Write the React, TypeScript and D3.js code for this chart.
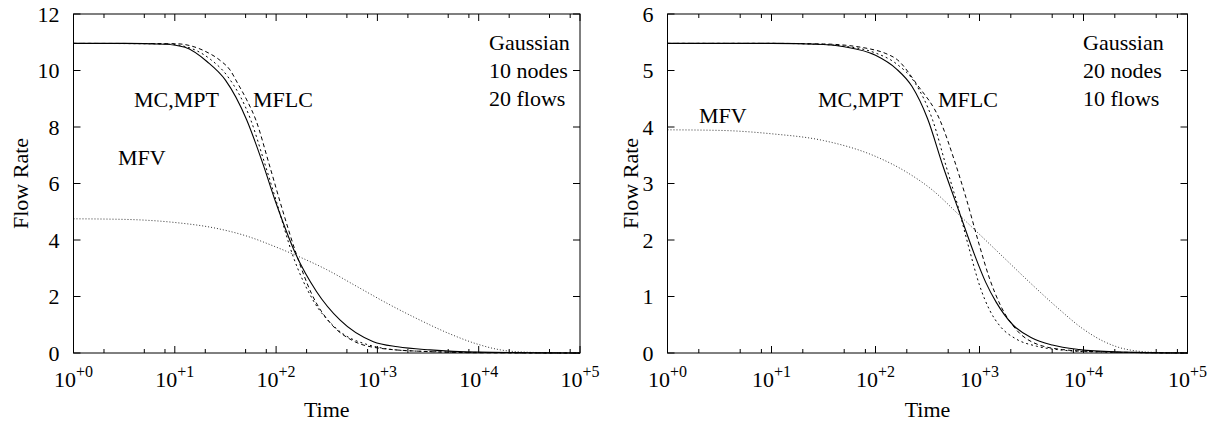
import React from "react";
import * as d3 from "d3";

// ---------- data (x given as log10(Time)) ----------
const xTickExponents = [0, 1, 2, 3, 4, 5];
const minorMultipliers = [2, 5, 8];

// Left panel: Gaussian, 10 nodes, 20 flows
const leftYTicks = [0, 2, 4, 6, 8, 10, 12];
const mcLeftX = [0, 0.5, 0.9, 1.1, 1.32, 1.5, 1.71, 1.86, 2.0, 2.19, 2.4, 2.63, 2.96, 3.2, 3.52, 4.0, 4.5, 5];
const mcLeftY = [10.96, 10.96, 10.93, 10.82, 10.31, 9.66, 8.25, 6.8, 5.3, 3.53, 2.17, 1.17, 0.4, 0.22, 0.11, 0.03, 0.01, 0];
const mptLeftX = [0, 0.9, 1.1, 1.35, 1.52, 1.75, 1.88, 2.0, 2.17, 2.36, 2.6, 2.9, 3.3, 4.0, 5];
const mptLeftY = [10.96, 10.94, 10.85, 10.4, 9.8, 8.25, 6.8, 5.4, 3.4, 1.9, 0.85, 0.3, 0.08, 0.02, 0];
const mflcLeftX = [0, 1.0, 1.15, 1.3, 1.45, 1.545, 1.62, 1.71, 1.8, 1.93, 2.06, 2.2, 2.35, 2.55, 2.75, 3.0, 3.5, 4.0, 5];
const mflcLeftY = [10.96, 10.95, 10.88, 10.68, 10.35, 10.02, 9.55, 8.96, 8.25, 6.7, 5.1, 3.5, 2.1, 1.0, 0.45, 0.18, 0.05, 0.01, 0];
const mfvLeftX = [0, 0.5, 1.0, 1.4, 1.7, 2.0, 2.2, 2.5, 2.8, 3.1, 3.4, 3.7, 4.0, 4.2, 4.4, 4.7, 5];
const mfvLeftY = [4.75, 4.73, 4.62, 4.42, 4.15, 3.75, 3.45, 2.95, 2.35, 1.75, 1.2, 0.7, 0.3, 0.12, 0.04, 0.01, 0];

// Right panel: Gaussian, 20 nodes, 10 flows
const rightYTicks = [0, 1, 2, 3, 4, 5, 6];
const mcRightX = [0, 1, 1.5, 1.7, 2.0, 2.2, 2.35, 2.5, 2.65, 2.81, 2.95, 3.06, 3.16, 3.32, 3.5, 3.7, 3.96, 4.3, 5];
const mcRightY = [5.48, 5.48, 5.46, 5.42, 5.27, 5.03, 4.72, 4.15, 3.3, 2.47, 1.75, 1.25, 0.9, 0.5, 0.27, 0.14, 0.06, 0.02, 0];
const mptRightX = [0, 1, 1.5, 1.7, 2.0, 2.2, 2.38, 2.55, 2.68, 2.8, 2.9, 3.0, 3.1, 3.2, 3.35, 3.55, 3.8, 4.1, 5];
const mptRightY = [5.48, 5.48, 5.46, 5.43, 5.31, 5.12, 4.78, 4.12, 3.3, 2.55, 1.85, 1.2, 0.75, 0.47, 0.25, 0.12, 0.05, 0.02, 0];
const mflcRightX = [0, 1, 1.5, 2.0, 2.1, 2.21, 2.4, 2.62, 2.76, 2.87, 3.0, 3.1, 3.2, 3.35, 3.5, 3.8, 4.2, 5];
const mflcRightY = [5.48, 5.48, 5.47, 5.36, 5.3, 5.19, 4.75, 4.12, 3.4, 2.75, 1.9, 1.3, 0.85, 0.42, 0.2, 0.06, 0.02, 0];
const mfvRightX = [0, 0.5, 1.0, 1.5, 2.0, 2.3, 2.55, 2.8, 3.0, 3.25, 3.5, 3.75, 4.0, 4.2, 4.4, 4.7, 5];
const mfvRightY = [3.95, 3.94, 3.88, 3.76, 3.48, 3.2, 2.88, 2.45, 2.1, 1.66, 1.22, 0.8, 0.42, 0.2, 0.07, 0.01, 0];

const leftInfo = ["Gaussian", "10 nodes", "20 flows"];
const rightInfo = ["Gaussian", "20 nodes", "10 flows"];

const FONT = "'Liberation Serif', 'Times New Roman', serif";
const FS = 22;

type Series = { xs: number[]; ys: number[]; dash?: string; color: string; width: number };
type Label = { text: string; x: number; y: number };

function Panel(props: {
  left: number; right: number; top: number; bottom: number;
  yMax: number; yTicks: number[]; series: Series[]; labels: Label[];
  info: string[]; infoX: number; ylabelX: number;
}) {
  const { left, right, top, bottom, yMax, yTicks, series, labels, info, infoX, ylabelX } = props;
  const x = d3.scaleLog().domain([1, 1e5]).range([left, right]);
  const y = d3.scaleLinear().domain([0, yMax]).range([bottom, top]);
  const minor: number[] = [];
  xTickExponents.slice(0, -1).forEach((e) => minorMultipliers.forEach((m) => minor.push(m * Math.pow(10, e))));
  return (
    <g>
      {series.map((s, i) => {
        const pts = s.xs.map((e, j) => [Math.pow(10, e), s.ys[j]] as [number, number]);
        const line = d3.line<[number, number]>()
          .x((d) => x(d[0]))
          .y((d) => y(d[1]))
          .curve(d3.curveMonotoneX);
        return (
          <path key={i} d={line(pts) || ""} fill="none" stroke={s.color}
            strokeWidth={s.width} strokeDasharray={s.dash} />
        );
      })}
      <rect x={left} y={top} width={right - left} height={bottom - top} fill="none" stroke="#000" strokeWidth={1} />
      {yTicks.map((t) => (
        <g key={"y" + t}>
          <line x1={left} x2={left + 7} y1={y(t)} y2={y(t)} stroke="#000" />
          <line x1={right} x2={right - 7} y1={y(t)} y2={y(t)} stroke="#000" />
          <text x={left - 14} y={y(t) + 7.5} textAnchor="end" fontFamily={FONT} fontSize={FS}>{t}</text>
        </g>
      ))}
      {xTickExponents.map((e) => {
        const px = x(Math.pow(10, e));
        return (
          <g key={"x" + e}>
            <line x1={px} x2={px} y1={bottom} y2={bottom - 7} stroke="#000" />
            <line x1={px} x2={px} y1={top} y2={top + 7} stroke="#000" />
            <text x={px} y={bottom + 34} textAnchor="middle" fontFamily={FONT} fontSize={FS}>
              <tspan>10</tspan>
              <tspan dy={-10} fontSize={16}>{"+" + e}</tspan>
            </text>
          </g>
        );
      })}
      {minor.map((v, i) => (
        <g key={"m" + i}>
          <line x1={x(v)} x2={x(v)} y1={bottom} y2={bottom - 4} stroke="#000" />
          <line x1={x(v)} x2={x(v)} y1={top} y2={top + 4} stroke="#000" />
        </g>
      ))}
      <text x={(left + right) / 2} y={417} textAnchor="middle" fontFamily={FONT} fontSize={FS}>Time</text>
      <text transform={`translate(${ylabelX},${(top + bottom) / 2}) rotate(-90)`} textAnchor="middle"
        fontFamily={FONT} fontSize={FS}>Flow Rate</text>
      {labels.map((l, i) => (
        <text key={"l" + i} x={l.x} y={l.y} fontFamily={FONT} fontSize={FS}>{l.text}</text>
      ))}
      {info.map((t, i) => (
        <text key={"i" + i} x={infoX} y={50 + i * 28} fontFamily={FONT} fontSize={FS}>{t}</text>
      ))}
    </g>
  );
}

export default function App() {
  const solid = { color: "#000", width: 1.1 };
  const leftSeries: Series[] = [
    { xs: mfvLeftX, ys: mfvLeftY, dash: "1,2", color: "#333", width: 1 },
    { xs: mflcLeftX, ys: mflcLeftY, dash: "4,3", color: "#000", width: 1 },
    { xs: mptLeftX, ys: mptLeftY, dash: "2,3", color: "#000", width: 1 },
    { xs: mcLeftX, ys: mcLeftY, ...solid },
  ];
  const rightSeries: Series[] = [
    { xs: mfvRightX, ys: mfvRightY, dash: "1,2", color: "#333", width: 1 },
    { xs: mflcRightX, ys: mflcRightY, dash: "4,3", color: "#000", width: 1 },
    { xs: mptRightX, ys: mptRightY, dash: "2,3", color: "#000", width: 1 },
    { xs: mcRightX, ys: mcRightY, ...solid },
  ];
  return (
    <svg width={1217} height={424} style={{ position: "absolute", left: 0, top: 0, background: "#fff" }}>
      <rect x={0} y={0} width={1217} height={424} fill="#fff" />
      <Panel left={73.5} right={580} top={14} bottom={353} yMax={12} yTicks={leftYTicks}
        series={leftSeries}
        labels={[{ text: "MC,MPT", x: 134, y: 107 }, { text: "MFLC", x: 253, y: 107 }, { text: "MFV", x: 118, y: 165 }]}
        info={leftInfo} infoX={489} ylabelX={28} />
      <Panel left={667.5} right={1187.5} top={14} bottom={353} yMax={6} yTicks={rightYTicks}
        series={rightSeries}
        labels={[{ text: "MC,MPT", x: 818, y: 107 }, { text: "MFLC", x: 938, y: 107 }, { text: "MFV", x: 699, y: 123 }]}
        info={rightInfo} infoX={1083} ylabelX={638} />
    </svg>
  );
}
